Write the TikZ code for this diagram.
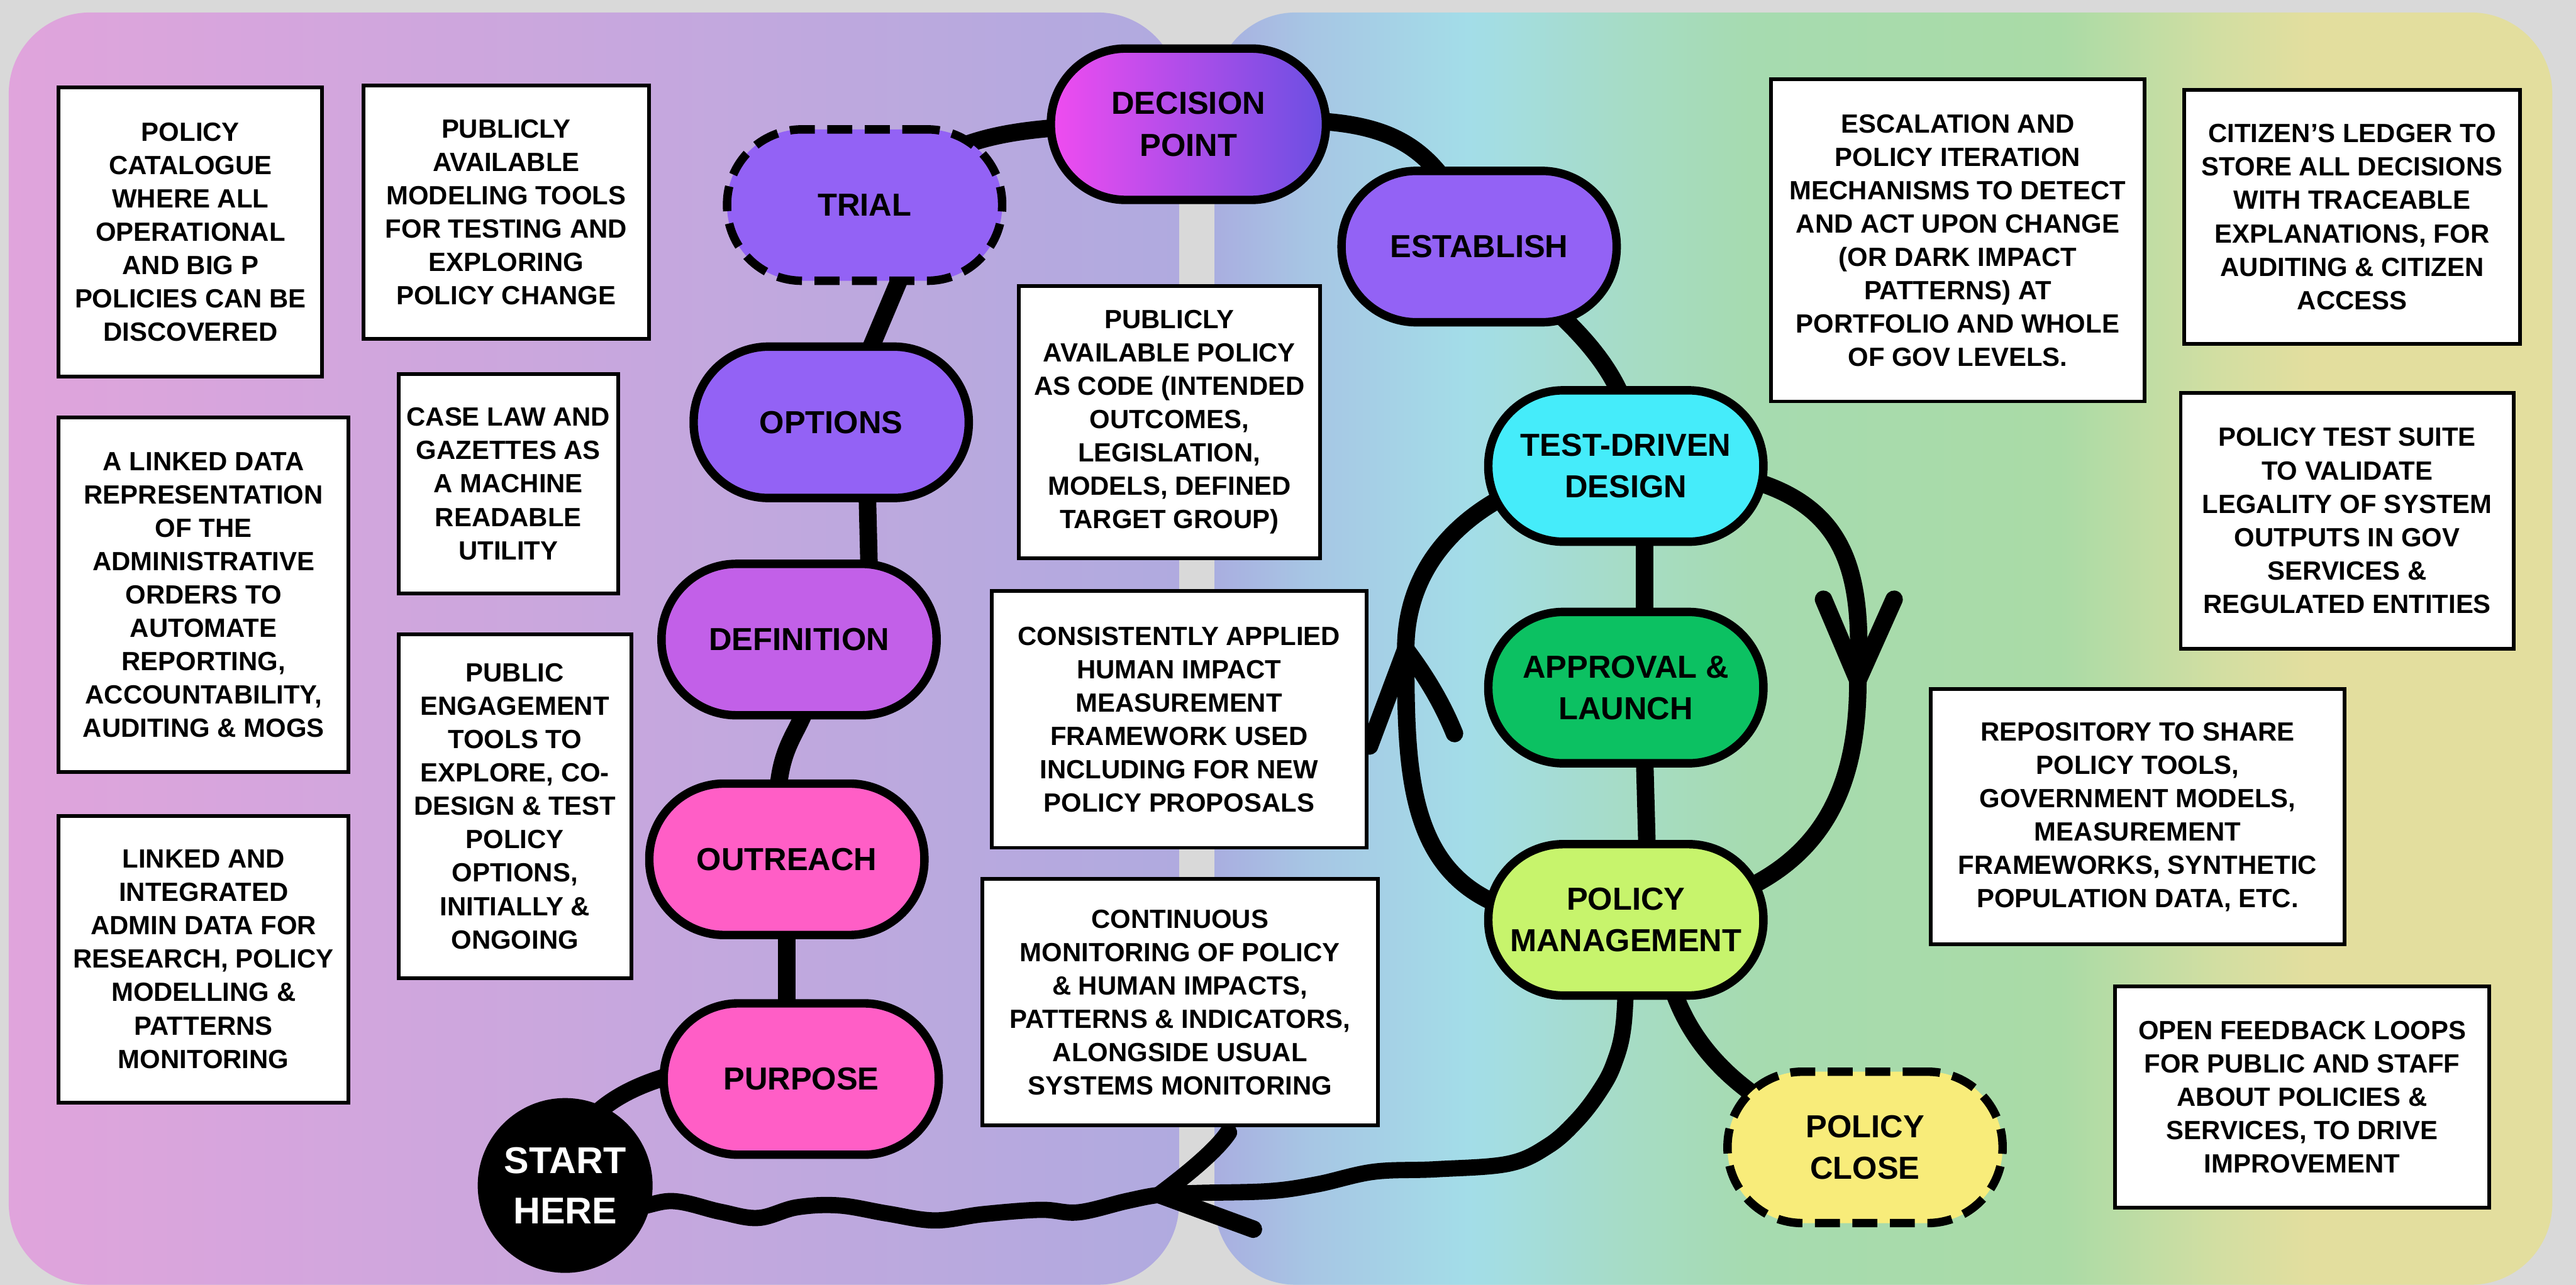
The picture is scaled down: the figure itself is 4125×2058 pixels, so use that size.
\documentclass[tikz,border=0pt]{standalone}
\usepackage{fontspec}
\setmainfont{Liberation Sans}
\usetikzlibrary{shapes.geometric}
\pgfdeclarelayer{bg}
\pgfdeclarelayer{conn}
\pgfsetlayers{bg,conn,main}
\definecolor{greybg}{HTML}{D9D9D9}
\definecolor{lpA}{HTML}{E0A4DC}
\definecolor{lpB}{HTML}{B0AADF}
\definecolor{rp1}{HTML}{A9AEE0}
\definecolor{rp2}{HTML}{A7C6E4}
\definecolor{rp3}{HTML}{A3DDE8}
\definecolor{rp4}{HTML}{A6DCC6}
\definecolor{rp5}{HTML}{A6DBB0}
\definecolor{rp6}{HTML}{AADBA6}
\definecolor{rp7}{HTML}{D2DEA2}
\definecolor{rp8}{HTML}{E3DE9E}
\pgfdeclarehorizontalshading{rightpanel}{100bp}{color(0bp)=(rp1); color(25bp)=(rp1); color(28.6bp)=(rp2); color(34.5bp)=(rp3); color(40.3bp)=(rp4); color(45bp)=(rp5); color(56.6bp)=(rp6); color(62.5bp)=(rp7); color(66bp)=(rp8); color(100bp)=(rp8)}
\definecolor{purpleN}{HTML}{9362F5}
\definecolor{defN}{HTML}{C260E8}
\definecolor{pinkN}{HTML}{FF5EC6}
\definecolor{cyanN}{HTML}{45ECFA}
\definecolor{greenN}{HTML}{0CC162}
\definecolor{limeN}{HTML}{C7F46C}
\definecolor{yellowN}{HTML}{F8EC7A}
\definecolor{dpL}{HTML}{F04CF0}
\definecolor{dpR}{HTML}{6A4FE2}
\begin{document}
\begin{tikzpicture}[x=0.1mm, y=-0.1mm,
  stage/.style={draw=black, line width=1.35mm, rounded corners=12mm, minimum width=44.05mm, minimum height=24.25mm, align=center, font=\fontsize{14.5}{19}\selectfont\bfseries, inner sep=1mm},
  dstage/.style={stage, dash pattern=on 4mm off 2mm},
  infobox/.style={draw=black, line width=0.6mm, fill=white, align=center, font=\fontsize{12}{15.2}\selectfont\bfseries, inner sep=1mm},
  conn/.style={line width=2.8mm, line cap=round, line join=round, draw=black}]
\useasboundingbox (0,0) rectangle (4125,2058);
\begin{pgfonlayer}{bg}
  \fill[greybg] (0,0) rectangle (4125,2058);
  \shade[left color=lpA, right color=lpB, rounded corners=13mm] (14,20) rectangle (1888,2058);
  \shade[shading=rightpanel, rounded corners=13mm] (1945,20) rectangle (4087,2058);
\end{pgfonlayer}

% stages
\node[stage, left color=dpL, right color=dpR] (dp) at (1903,199) {DECISION\\POINT};
\node[dstage, fill=purpleN] (trial) at (1384.5,328.5) {TRIAL};
\node[stage, fill=purpleN] (options) at (1331,676.5) {OPTIONS};
\node[stage, fill=defN] (definition) at (1279.5,1024.5) {DEFINITION};
\node[stage, fill=pinkN] (outreach) at (1260,1376.5) {OUTREACH};
\node[stage, fill=pinkN] (purpose) at (1283,1728.5) {PURPOSE};
\node[stage, fill=purpleN] (establish) at (2368.5,395) {ESTABLISH};
\node[stage, fill=cyanN] (tdd) at (2603.5,746.5) {TEST-DRIVEN\\DESIGN};
\node[stage, fill=greenN] (al) at (2603.5,1101.5) {APPROVAL \&\\LAUNCH};
\node[stage, fill=limeN] (pm) at (2603.5,1473.5) {POLICY\\MANAGEMENT};
\node[dstage, fill=yellowN] (close) at (2986.5,1838) {POLICY\\CLOSE};
\node[circle, fill=black, minimum size=28mm, inner sep=0, text=white, align=center, font=\fontsize{17}{23}\selectfont\bfseries] (start) at (905,1899) {START\\HERE};

% info boxes
\node[infobox, minimum width=42.2mm, minimum height=46.3mm] (b1) at (305,371.5) {POLICY\\CATALOGUE\\WHERE ALL\\OPERATIONAL\\AND BIG P\\POLICIES CAN BE\\DISCOVERED};
\node[infobox, minimum width=45.7mm, minimum height=40.6mm] (b4) at (810.5,340) {PUBLICLY\\AVAILABLE\\MODELING TOOLS\\FOR TESTING AND\\EXPLORING\\POLICY CHANGE};
\node[infobox, minimum width=35.2mm, minimum height=35.2mm] (b5) at (814,775) {CASE LAW AND\\GAZETTES AS\\A MACHINE\\READABLE\\UTILITY};
\node[infobox, minimum width=46.4mm, minimum height=56.8mm] (b2) at (326,953) {A LINKED DATA\\REPRESENTATION\\OF THE\\ADMINISTRATIVE\\ORDERS TO\\AUTOMATE\\REPORTING,\\ACCOUNTABILITY,\\AUDITING \& MOGS};
\node[infobox, minimum width=37.3mm, minimum height=55.1mm] (b6) at (824.5,1291.5) {PUBLIC\\ENGAGEMENT\\TOOLS TO\\EXPLORE, CO-\\DESIGN \& TEST\\POLICY\\OPTIONS,\\INITIALLY \&\\ONGOING};
\node[infobox, minimum width=46.4mm, minimum height=45.9mm] (b3) at (326,1536.5) {LINKED AND\\INTEGRATED\\ADMIN DATA FOR\\RESEARCH, POLICY\\MODELLING \&\\PATTERNS\\MONITORING};
\node[infobox, minimum width=48.3mm, minimum height=43.6mm] (b7) at (1872.5,676) {PUBLICLY\\AVAILABLE POLICY\\AS CODE (INTENDED\\OUTCOMES,\\LEGISLATION,\\MODELS, DEFINED\\TARGET GROUP)};
\node[infobox, minimum width=60.0mm, minimum height=41.1mm] (b8) at (1888,1152.5) {CONSISTENTLY APPLIED\\HUMAN IMPACT\\MEASUREMENT\\FRAMEWORK USED\\INCLUDING FOR NEW\\POLICY PROPOSALS};
\node[infobox, minimum width=63.3mm, minimum height=39.5mm] (b9) at (1889.5,1605.5) {CONTINUOUS\\MONITORING OF POLICY\\\& HUMAN IMPACTS,\\PATTERNS \& INDICATORS,\\ALONGSIDE USUAL\\SYSTEMS MONITORING};
\node[infobox, minimum width=59.8mm, minimum height=51.6mm] (b10) at (3135,385) {ESCALATION AND\\POLICY ITERATION\\MECHANISMS TO DETECT\\AND ACT UPON CHANGE\\(OR DARK IMPACT\\PATTERNS) AT\\PORTFOLIO AND WHOLE\\OF GOV LEVELS.};
\node[infobox, minimum width=53.7mm, minimum height=40.7mm] (b11) at (3766.5,347.5) {CITIZEN'S LEDGER TO\\STORE ALL DECISIONS\\WITH TRACEABLE\\EXPLANATIONS, FOR\\AUDITING \& CITIZEN\\ACCESS};
\node[infobox, minimum width=53.3mm, minimum height=41.0mm] (b12) at (3758.5,834) {POLICY TEST SUITE\\TO VALIDATE\\LEGALITY OF SYSTEM\\OUTPUTS IN GOV\\SERVICES \&\\REGULATED ENTITIES};
\node[infobox, minimum width=66.2mm, minimum height=40.9mm] (b13) at (3423,1308.5) {REPOSITORY TO SHARE\\POLICY TOOLS,\\GOVERNMENT MODELS,\\MEASUREMENT\\FRAMEWORKS, SYNTHETIC\\POPULATION DATA, ETC.};
\node[infobox, minimum width=59.9mm, minimum height=35.5mm] (b14) at (3686.5,1757.5) {OPEN FEEDBACK LOOPS\\FOR PUBLIC AND STAFF\\ABOUT POLICIES \&\\SERVICES, TO DRIVE\\IMPROVEMENT};

\coordinate (tipL) at (2251,1040);
\coordinate (tipR) at (2975,1090);
\coordinate (tipW) at (1857,1914);

\begin{pgfonlayer}{conn}
  \draw[conn] (dp.center) .. controls +(-330,0) and +(150,-110) .. (trial.center);
  \draw[conn] ([shift={(106,0)}]trial.center) -- ([shift={(13,0)}]options.center);
  \draw[conn] ([shift={(55,0)}]options.center) -- ([shift={(115,0)}]definition.center);
  \draw[conn] ([shift={(20,60)}]definition.center) .. controls +(-5,95) and +(-5,-146) .. ([shift={(-15,-60)}]outreach.center);
  \draw[conn] (outreach.center) -- ([shift={(-23,0)}]purpose.center);
  \draw[conn] (start.center) .. controls +(0,-150) and +(-200,0) .. ([shift={(0,-30)}]purpose.center);
  \draw[conn] (dp.center) .. controls +(300,-20) and +(-80,-200) .. (establish.center);
  \draw[conn] (establish.center) .. controls +(150,120) and +(0,-150) .. ([shift={(15,0)}]tdd.center);
  \draw[conn] ([shift={(30,0)}]tdd.center) -- ([shift={(30,0)}]al.center);
  \draw[conn] ([shift={(27,0)}]al.center) -- ([shift={(37,0)}]pm.center);
  \draw[conn] ([shift={(58,0)}]pm.center) .. controls +(0,230) and +(-130,-40) .. (close.center);
  % loops
  \draw[conn] (pm.center) .. controls +(-350,20) and +(0,250) .. (tipL) .. controls +(0,-200) and +(-150,0) .. (tdd.center);
  \draw[conn] (tdd.center) .. controls +(347,0) and +(10,-210) .. (tipR) .. controls +(0,200) and +(297,-33) .. (pm.center);
  \draw[conn] (tipL) -- +(-58,155);
  \draw[conn] (tipL) .. controls +(30,40) and +(-20,-50) .. +(78,135);
  \draw[conn] (tipR) -- +(-55,-130);
  \draw[conn] (tipR) -- +(58,-130);
  % wavy return line
  \draw[conn, line width=2.6mm] plot[smooth, tension=0.6] coordinates {(start.center) (1000,1934) (1077,1924) (1153,1941) (1214,1951) (1276,1934) (1344,1931) (1421,1944) (1497,1955) (1574,1945) (1666,1938) (1727,1942) (1804,1924) (tipW) (1918,1911) (2033,1908) (2110,1897) (2200,1877) (2300,1873) (2416,1864) (2480,1835) (2525,1795) (2560,1750) (2584,1705) (2600,1640) ([shift={(2,40)}]pm.center)};
  \draw[conn] (tipW) .. controls +(40,-30) and +(-20,30) .. +(110,-100);
  \draw[conn] (tipW) -- +(150,55);
\end{pgfonlayer}
\end{tikzpicture}
\end{document}
